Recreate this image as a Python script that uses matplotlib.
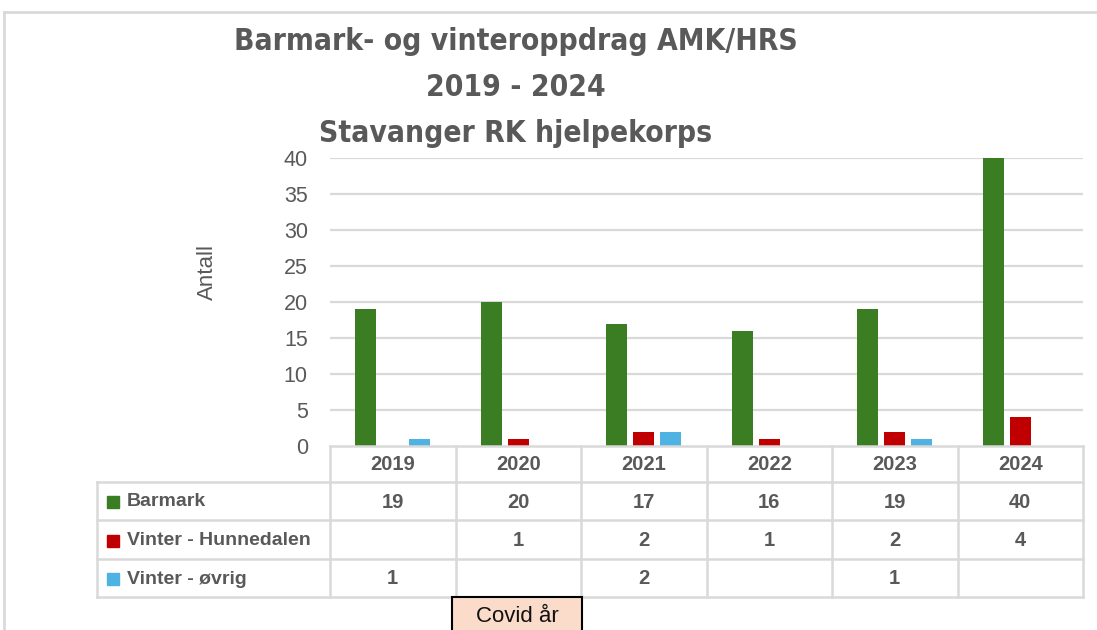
import numpy as np
import matplotlib
matplotlib.use("Agg")
import matplotlib.pyplot as plt
from matplotlib.patches import Rectangle

years = ["2019", "2020", "2021", "2022", "2023", "2024"]
series_names = ["Barmark", "Vinter - Hunnedalen", "Vinter - øvrig"]
barmark = [19, 20, 17, 16, 19, 40]
hunnedalen = [None, 1, 2, 1, 2, 4]
ovrig = [1, None, 2, None, 1, None]
colors = ["#3b7d23", "#c00000", "#4eb3e2"]
title_lines = ["Barmark- og vinteroppdrag AMK/HRS", "2019 - 2024", "Stavanger RK hjelpekorps"]
y_ticks = [0, 5, 10, 15, 20, 25, 30, 35, 40]
note = "Covid år"

W, H = 1097, 630
fig = plt.figure(figsize=(W / 100, H / 100), dpi=100)
fig.patch.set_facecolor("white")

TXT = "#595959"
GRID = "#d9d9d9"

# plot area in pixel coords
px0, px1, py_top, py_bot = 330, 1083, 158, 446
ax = fig.add_axes([px0 / W, 1 - py_bot / H, (px1 - px0) / W, (py_bot - py_top) / H])
ax.set_xlim(-0.5, len(years) - 0.5)
ax.set_ylim(0, 40)
ax.set_facecolor("none")
for s in ax.spines.values():
    s.set_visible(False)
ax.set_yticks(y_ticks)
ax.set_yticklabels([str(t) for t in y_ticks], fontsize=15.5, color=TXT, family="Liberation Sans")
ax.tick_params(axis="y", length=0, pad=16)
ax.set_xticks([])
for t in y_ticks[1:]:
    ax.axhline(t, color=GRID, lw=1.6, zorder=0)

x = np.arange(len(years))
off = 0.215
bw = 0.168
data = [barmark, hunnedalen, ovrig]
for i, (vals, c) in enumerate(zip(data, colors)):
    v = [0 if a is None else a for a in vals]
    ax.bar(x + (i - 1) * off, v, width=bw, color=c, zorder=2, edgecolor="none")

ax.set_ylabel("Antall", fontsize=16, color=TXT, family="Liberation Sans")
ax.yaxis.set_label_coords((218 - px0) / (px1 - px0), (py_bot - 272) / (py_bot - py_top))

# overlay for table and decorations (pixel coordinates)
ov = fig.add_axes([0, 0, 1, 1])
ov.set_xlim(0, W)
ov.set_ylim(H, 0)
ov.axis("off")
ov.set_facecolor("none")

# outer frame
ov.plot([4, W], [12, 12], color=GRID, lw=2)
ov.plot([4, 4], [12, H], color=GRID, lw=2)

# titles
for line, yc in zip(title_lines, [42, 87, 133]):
    ov.text(516, yc, line, ha="center", va="center", fontsize=21.5, fontweight="bold",
            color=TXT, family="DejaVu Sans", fontstretch="condensed")

# table
col_edges = np.linspace(px0, px1, len(years) + 1)
row_edges = [446, 482, 520, 559, 597]
lx = 97
tlw = 1.8
ov.plot([px0, px1], [row_edges[0]] * 2, color=GRID, lw=tlw)
for r in row_edges[1:]:
    ov.plot([lx, px1], [r, r], color=GRID, lw=tlw)
ov.plot([lx, lx], [row_edges[1], row_edges[-1]], color=GRID, lw=tlw)
for ce in col_edges:
    ov.plot([ce, ce], [row_edges[0], row_edges[-1]], color=GRID, lw=tlw)

cc = (col_edges[:-1] + col_edges[1:]) / 2
fs = 14.5
for j, yr in enumerate(years):
    ov.text(cc[j], (row_edges[0] + row_edges[1]) / 2 + 1, yr, ha="center", va="center",
            fontsize=fs, fontweight="bold", color=TXT, family="Liberation Sans")
for i, (name, vals, c) in enumerate(zip(series_names, data, colors)):
    yc = (row_edges[i + 1] + row_edges[i + 2]) / 2 + 1
    ov.add_patch(Rectangle((107, yc - 6), 12, 12, color=c))
    ov.text(127, yc, name, ha="left", va="center", fontsize=fs - 0.5, fontweight="bold",
            color=TXT, family="Liberation Sans")
    for j, v in enumerate(vals):
        if v is not None:
            ov.text(cc[j], yc, str(v), ha="center", va="center", fontsize=fs,
                    fontweight="bold", color=TXT, family="Liberation Sans")

# covid note box
ov.add_patch(Rectangle((452, 597), 130, 40, facecolor="#fbdccb", edgecolor="black", lw=1.5, zorder=3))
ov.text(517, 616, note, ha="center", va="center", fontsize=16, color="#111111",
        family="Liberation Sans", zorder=4)

fig.savefig("out.png", dpi=100)
